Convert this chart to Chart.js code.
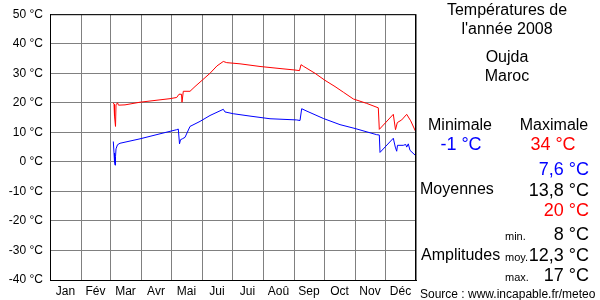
<!DOCTYPE html>
<html>
<head>
<meta charset="utf-8">
<script src="https://cdn.jsdelivr.net/npm/chart.js@4"></script>
<style>
  body { margin: 0; background: #fff; font-family: "Liberation Sans", Arial, sans-serif; }
  #wrap { position: relative; width: 600px; height: 300px; }
  canvas { position: absolute; left: 0; top: 0; }
  .t { position: absolute; white-space: nowrap; line-height: 1; }
  .c { transform: translateX(-50%); text-align: center; }
  .r { transform: translateX(-100%); }
</style>
</head>
<body>
<div id="wrap">
  <canvas id="tempChart" width="600" height="300"></canvas>
  <div class="t c" style="left:507px;top:2px;font-size:16px">Températures de</div>
  <div class="t c" style="left:507px;top:21px;font-size:16px">l'année 2008</div>
  <div class="t c" style="left:507px;top:49px;font-size:16px">Oujda</div>
  <div class="t c" style="left:507px;top:68px;font-size:16px">Maroc</div>
  <div class="t c" style="left:460px;top:117px;font-size:16px">Minimale</div>
  <div class="t c" style="left:554px;top:117px;font-size:16px">Maximale</div>
  <div class="t c" style="left:461px;top:135px;font-size:18px;color:#0000ff">-1 °C</div>
  <div class="t c" style="left:553px;top:135px;font-size:18px;color:#ff0000">34 °C</div>
  <div class="t r" style="left:589px;top:160px;font-size:18px;color:#0000ff">7,6 °C</div>
  <div class="t" style="left:420px;top:181px;font-size:16px">Moyennes</div>
  <div class="t r" style="left:589px;top:181px;font-size:18px">13,8 °C</div>
  <div class="t r" style="left:589px;top:201px;font-size:18px;color:#ff0000">20 °C</div>
  <div class="t" style="left:505px;top:231px;font-size:11px">min.</div>
  <div class="t r" style="left:589px;top:225px;font-size:18px">8 °C</div>
  <div class="t" style="left:421px;top:247px;font-size:16px">Amplitudes</div>
  <div class="t" style="left:505px;top:252px;font-size:11px">moy.</div>
  <div class="t r" style="left:589px;top:246px;font-size:18px">12,3 °C</div>
  <div class="t" style="left:505px;top:272px;font-size:11px">max.</div>
  <div class="t r" style="left:589px;top:266px;font-size:18px">17 °C</div>
  <div class="t" style="left:420px;top:288px;font-size:12px">Source : www.incapable.fr/meteo</div>
</div>
<script>
// Month boundaries (day of year, 2008 is a leap year) and labels
const monthStarts = [0, 31, 60, 91, 121, 152, 182, 213, 244, 274, 305, 335, 366];
const monthNames = ["Jan", "Fév", "Mar", "Avr", "Mai", "Jui", "Jui", "Aoû", "Sep", "Oct", "Nov", "Déc"];

// Y ticks
const tempTicks = [-40, -30, -20, -10, 0, 10, 20, 30, 40, 50];

// Max temperatures (red)
const maxDays = [63.3, 64, 64.5, 65.5, 66, 67.5, 68.5, 75, 90, 105, 120, 126.7, 129, 131.5, 132, 133.3, 140, 145, 150, 160, 167, 173.3, 176.7, 190, 210, 230, 245, 249.5, 251, 253.3, 265, 275, 285, 293.3, 303.3, 316.7, 328.3, 329.3, 343.3, 345.5, 347.3, 351.7, 356.7, 360.7, 366];
const maxTemps = [20, 19.5, 15.5, 12, 19.3, 20, 19.2, 19.3, 20.2, 20.8, 21.4, 21.8, 22.9, 22.9, 20.2, 23.9, 23.9, 25.5, 27, 30, 32.5, 34, 33.6, 33.2, 32.3, 31.6, 31.1, 30.9, 32.9, 32.4, 30, 27.6, 25.5, 23.6, 21.3, 19.8, 18.3, 11, 16.1, 10.9, 13.3, 14.2, 16.1, 13.9, 10];

// Min temperatures (blue)
const minDays = [63.3, 64, 64.5, 65, 65.5, 66, 67.5, 70, 90, 110, 126.7, 128.3, 129.5, 130.5, 132.3, 135, 140, 150, 160, 173.3, 175, 183.3, 200, 220, 246.7, 250, 251.7, 256, 273.3, 290, 305, 326.7, 329.3, 330, 343.3, 345.3, 346.7, 347.5, 353.3, 355.7, 356.7, 358.3, 360, 366];
const minTemps = [6.9, 3, 0, -1.1, 1.7, 4.4, 5.8, 6.3, 7.8, 9.5, 10.9, 11.1, 6.1, 7.5, 7.8, 8.3, 12, 13.7, 15.7, 17.8, 16.9, 16.3, 15.5, 14.6, 14.2, 14, 18, 17.3, 14.7, 12.6, 11.3, 9.2, 9.1, 3.2, 8, 5, 3.6, 5.6, 5.6, 5.9, 5, 6.1, 3.9, 2];

const toPoints = (xs, ys) => xs.map((x, i) => ({ x, y: ys[i] }));

// Tick positions: month boundaries (grid) + month middles (labels)
const monthMids = monthNames.map((_, i) => (monthStarts[i] + monthStarts[i + 1]) / 2);

const frameBorder = {
  id: "frameBorder",
  afterDraw(chart) {
    const { ctx, chartArea: a } = chart;
    ctx.save();
    ctx.strokeStyle = "#000";
    ctx.lineWidth = 1;
    ctx.strokeRect(a.left + 0.5, a.top + 0.5, a.right - a.left - 1, a.bottom - a.top);
    ctx.restore();
  }
};

const font = { family: "Liberation Sans, Arial, sans-serif", size: 12 };

new Chart(document.getElementById("tempChart"), {
  type: "line",
  data: {
    datasets: [
      {
        label: "Maximale",
        data: toPoints(maxDays, maxTemps),
        borderColor: "#ff0000",
        borderWidth: 1,
        pointRadius: 0,
        tension: 0,
      },
      {
        label: "Minimale",
        data: toPoints(minDays, minTemps),
        borderColor: "#0000ff",
        borderWidth: 1,
        pointRadius: 0,
        tension: 0,
      }
    ]
  },
  options: {
    responsive: false,
    animation: false,
    layout: { padding: { top: 10, right: 184, left: 0, bottom: 0 } },
    plugins: { legend: { display: false }, tooltip: { enabled: false } },
    scales: {
      x: {
        type: "linear",
        min: 0,
        max: 366,
        afterBuildTicks: (scale) => {
          scale.ticks = [...monthStarts, ...monthMids]
            .sort((a, b) => a - b)
            .map((value) => ({ value }));
        },
        afterFit: (scale) => { scale.height = 20; },
        ticks: {
          autoSkip: false,
          maxRotation: 0,
          padding: 4,
          color: "#000",
          font,
          callback: (value) => {
            const i = monthMids.indexOf(value);
            return i >= 0 ? monthNames[i] : "";
          }
        },
        grid: {
          drawTicks: false,
          color: (ctx) => monthStarts.includes(ctx.tick && ctx.tick.value) ? "#808080" : "rgba(0,0,0,0)",
          lineWidth: 1,
        },
        border: { color: "#000", width: 1 },
      },
      y: {
        min: -40,
        max: 50,
        afterBuildTicks: (scale) => {
          scale.ticks = tempTicks.map((value) => ({ value }));
        },
        afterFit: (scale) => { scale.width = 50; },
        ticks: {
          padding: 7,
          color: "#000",
          font,
          callback: (value) => value + " °C",
        },
        grid: { drawTicks: false, color: "#808080", lineWidth: 1 },
        border: { color: "#000", width: 1 },
      }
    }
  },
  plugins: [frameBorder]
});
</script>
</body>
</html>
